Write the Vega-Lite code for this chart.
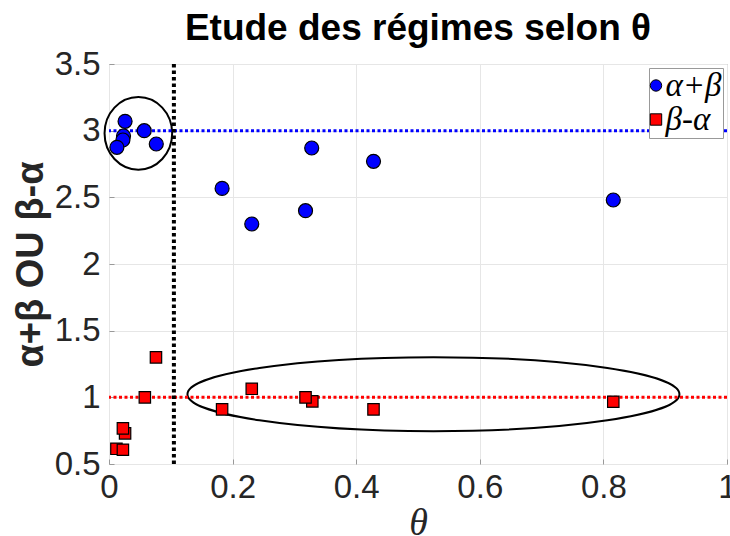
{
  "$schema": "https://vega.github.io/schema/vega-lite/v6.json",
  "width": 618,
  "height": 400,
  "autosize": "none",
  "padding": {"left": 109, "top": 64, "right": 3, "bottom": 72},
  "background": "white",
  "title": {"text": "Etude des régimes selon θ", "font": "Liberation Sans", "fontSize": 37, "fontWeight": "bold", "color": "black", "offset": 0},
  "config": {
    "view": {"stroke": "#999999", "strokeWidth": 1},
    "axis": {
      "labelFont": "Liberation Sans", "labelFontSize": 33, "labelColor": "#262626", "labelFlush": false,
      "gridColor": "#e6e6e6", "gridWidth": 1, "domain": false,
      "ticks": true, "tickSize": -5, "tickColor": "#999999"
    },
    "legend": {
      "orient": "top-right", "offset": 4, "padding": 1, "rowPadding": 0,
      "strokeColor": "#999999", "fillColor": "white", "cornerRadius": 0,
      "labelFont": "Liberation Serif", "labelFontStyle": "italic", "labelFontSize": 33, "labelColor": "black",
      "symbolSize": 130, "symbolStrokeColor": "black", "symbolStrokeWidth": 1,
      "labelOffset": -7, "symbolOffset": -10.5
    }
  },
  "datasets": {
    "pts": [
      {"theta": 0.026, "v": 3.07, "serie": "α+β"},
      {"theta": 0.057, "v": 3.0, "serie": "α+β"},
      {"theta": 0.0235, "v": 2.96, "serie": "α+β"},
      {"theta": 0.0225, "v": 2.93, "serie": "α+β"},
      {"theta": 0.0128, "v": 2.875, "serie": "α+β"},
      {"theta": 0.0765, "v": 2.9, "serie": "α+β"},
      {"theta": 0.183, "v": 2.567, "serie": "α+β"},
      {"theta": 0.231, "v": 2.3, "serie": "α+β"},
      {"theta": 0.318, "v": 2.4, "serie": "α+β"},
      {"theta": 0.328, "v": 2.87, "serie": "α+β"},
      {"theta": 0.428, "v": 2.77, "serie": "α+β"},
      {"theta": 0.816, "v": 2.48, "serie": "α+β"},
      {"theta": 0.012, "v": 0.614, "serie": "β-α"},
      {"theta": 0.0225, "v": 0.607, "serie": "β-α"},
      {"theta": 0.026, "v": 0.73, "serie": "β-α"},
      {"theta": 0.0225, "v": 0.767, "serie": "β-α"},
      {"theta": 0.058, "v": 1.0, "serie": "β-α"},
      {"theta": 0.076, "v": 1.3, "serie": "β-α"},
      {"theta": 0.183, "v": 0.91, "serie": "β-α"},
      {"theta": 0.231, "v": 1.064, "serie": "β-α"},
      {"theta": 0.329, "v": 0.97, "serie": "β-α"},
      {"theta": 0.318, "v": 1.0, "serie": "β-α"},
      {"theta": 0.428, "v": 0.91, "serie": "β-α"},
      {"theta": 0.816, "v": 0.967, "serie": "β-α"}
    ],
    "refs_h": [
      {"v": 3, "serie": "α+β"},
      {"v": 1, "serie": "β-α"}
    ],
    "refs_v": [
      {"theta": 0.105}
    ],
    "ellipses": [
      {"theta": 0.0475, "v": 2.98, "kind": "petite"},
      {"theta": 0.525, "v": 1.024, "kind": "grande"}
    ]
  },
  "layer": [
    {
      "data": {"name": "ellipses"},
      "transform": [{"filter": "datum.kind === 'petite'"}],
      "mark": {"type": "point", "filled": false, "stroke": "black", "strokeWidth": 2, "opacity": 1, "size": 4570,
        "shape": "M -1 0 C -1 -0.593 -0.5523 -1.074 0 -1.074 C 0.5523 -1.074 1 -0.593 1 0 C 1 0.593 0.5523 1.074 0 1.074 C -0.5523 1.074 -1 0.593 -1 0 Z"},
      "encoding": {
        "x": {"field": "theta", "type": "quantitative"},
        "y": {"field": "v", "type": "quantitative"}
      }
    },
    {
      "data": {"name": "ellipses"},
      "transform": [{"filter": "datum.kind === 'grande'"}],
      "mark": {"type": "point", "filled": false, "stroke": "black", "strokeWidth": 2, "opacity": 1, "size": 242064,
        "shape": "M -1 0 C -1 -0.0831 -0.5523 -0.1504 0 -0.1504 C 0.5523 -0.1504 1 -0.0831 1 0 C 1 0.0831 0.5523 0.1504 0 0.1504 C -0.5523 0.1504 -1 0.0831 -1 0 Z"},
      "encoding": {
        "x": {"field": "theta", "type": "quantitative"},
        "y": {"field": "v", "type": "quantitative"}
      }
    },
    {
      "data": {"name": "refs_h"},
      "transform": [{"filter": "datum.serie === 'α+β'"}],
      "mark": {"type": "rule", "strokeDash": [3, 2.5], "strokeWidth": 3, "color": "#0000ff"},
      "encoding": {"y": {"field": "v", "type": "quantitative"}}
    },
    {
      "data": {"name": "refs_h"},
      "transform": [{"filter": "datum.serie === 'β-α'"}],
      "mark": {"type": "rule", "strokeDash": [3, 2.5], "strokeWidth": 3, "color": "#ff0000"},
      "encoding": {"y": {"field": "v", "type": "quantitative"}}
    },
    {
      "data": {"name": "refs_v"},
      "mark": {"type": "rule", "strokeDash": [3.5, 3], "strokeWidth": 4, "color": "black"},
      "encoding": {"x": {"field": "theta", "type": "quantitative"}}
    },
    {
      "data": {"name": "pts"},
      "transform": [{"filter": "datum.serie === 'α+β'"}],
      "mark": {"type": "point", "filled": true, "stroke": "black", "strokeWidth": 1.2, "opacity": 1, "size": 196},
      "encoding": {
        "x": {"field": "theta", "type": "quantitative",
          "scale": {"domain": [0, 1], "nice": false, "zero": false},
          "axis": {"values": [0, 0.2, 0.4, 0.6, 0.8, 1], "format": "~g", "labelPadding": 12,
            "title": "θ", "titleFont": "Liberation Serif", "titleFontStyle": "italic", "titleFontWeight": "normal",
            "titleFontSize": 38, "titleColor": "#262626", "titlePadding": 0}},
        "y": {"field": "v", "type": "quantitative",
          "scale": {"domain": [0.5, 3.5], "nice": false, "zero": false},
          "axis": {"values": [0.5, 1, 1.5, 2, 2.5, 3, 3.5], "format": "~g", "labelPadding": 14,
            "title": "α+β OU β-α", "titleFont": "Liberation Sans", "titleFontWeight": "bold",
            "titleFontSize": 38, "titleColor": "#262626", "titlePadding": 4}},
        "color": {"field": "serie", "type": "nominal",
          "scale": {"domain": ["α+β", "β-α"], "range": ["#0000ff", "#ff0000"]},
          "legend": {"title": null}},
        "shape": {"field": "serie", "type": "nominal",
          "scale": {"domain": ["α+β", "β-α"], "range": ["circle", "square"]},
          "legend": {"title": null}}
      }
    },
    {
      "data": {"name": "pts"},
      "transform": [{"filter": "datum.serie === 'β-α'"}],
      "mark": {"type": "point", "filled": true, "stroke": "black", "strokeWidth": 1.2, "opacity": 1, "size": 130},
      "encoding": {
        "x": {"field": "theta", "type": "quantitative"},
        "y": {"field": "v", "type": "quantitative"},
        "color": {"field": "serie", "type": "nominal"},
        "shape": {"field": "serie", "type": "nominal"}
      }
    }
  ]
}
